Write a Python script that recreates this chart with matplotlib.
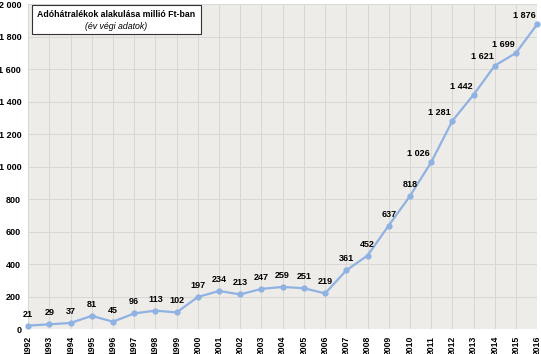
import matplotlib.pyplot as plt
from matplotlib.patches import Rectangle
from matplotlib.ticker import FuncFormatter

plt.rcParams['font.family'] = ['Liberation Sans', 'DejaVu Sans']

# adatok (millió Ft, év végi)
years = list(range(1992, 2017))
values = [21, 29, 37, 81, 45, 96, 113, 102, 197, 234, 213, 247, 259, 251,
          219, 361, 452, 637, 818, 1026, 1281, 1442, 1621, 1699, 1876]

fig = plt.figure(figsize=(5.41, 3.54), dpi=100)
ax = fig.add_axes([0.052, 0.0706, 0.941, 0.918])
ax.set_facecolor('#eeece8')

ax.plot(years, values, color='#8fb2e3', linewidth=1.6, marker='o',
        markersize=3.5, zorder=3, clip_on=False)

ax.set_xlim(1992, 2016)
ax.set_ylim(0, 2000)
ax.set_xticks(years)
ax.set_xticklabels([str(y) for y in years], rotation=90, fontsize=6.2, fontweight='bold')
ax.set_yticks(range(0, 2001, 200))
ax.yaxis.set_major_formatter(FuncFormatter(lambda v, p: f'{int(v):,}'.replace(',', ' ')))
for lbl in ax.get_yticklabels():
    lbl.set_fontsize(6.5)
    lbl.set_fontweight('bold')
ax.tick_params(axis='y', length=0, pad=5)
ax.tick_params(axis='x', length=0, pad=5)
ax.grid(True, color='#d9d7d3', linewidth=0.7)
ax.set_axisbelow(True)
for s in ax.spines.values():
    s.set_visible(False)

# értékcímkék
for x, v in zip(years, values):
    txt = f'{v:,}'.replace(',', ' ')
    if x >= 2011:
        ax.annotate(txt, (x, v), xytext=(-9, 3), textcoords='offset points',
                    ha='center', va='bottom', fontsize=6.5, fontweight='bold')
    else:
        ax.annotate(txt, (x, v), xytext=(0, 5), textcoords='offset points',
                    ha='center', va='bottom', fontsize=6.5, fontweight='bold')

# cím doboz
fig.patches.append(Rectangle((0.0591, 0.904), 0.3124, 0.0819, transform=fig.transFigure,
                             facecolor='white', edgecolor='#333333', linewidth=0.8, zorder=5))
fig.text(0.2153, 0.958, 'Adóhátralékok alakulása millió Ft-ban', ha='center', va='center',
         fontsize=6.3, fontweight='bold', zorder=6)
fig.text(0.2153, 0.925, '(év végi adatok)', ha='center', va='center',
         fontsize=6.3, fontstyle='italic', zorder=6)

plt.savefig('out.png', dpi=100)
